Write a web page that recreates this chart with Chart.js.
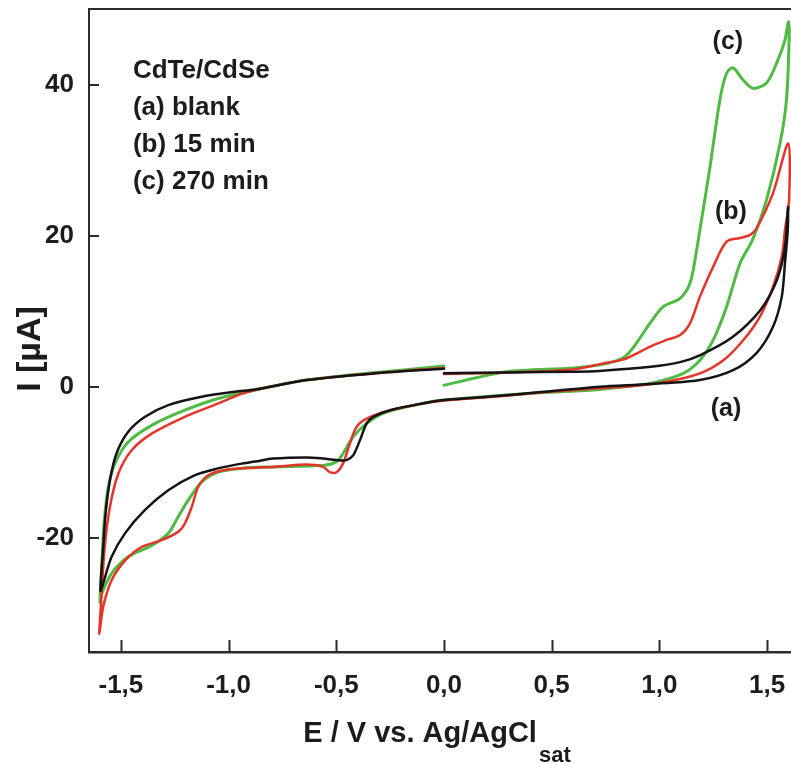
<!DOCTYPE html>
<html>
<head>
<meta charset="utf-8">
<script src="https://cdn.jsdelivr.net/npm/chart.js@4.4.0/dist/chart.umd.min.js"></script>
<style>
  html, body { margin: 0; padding: 0; background: #fff; }
  #wrap { width: 791px; height: 764px; }
</style>
</head>
<body>
<div id="wrap"><canvas id="cvChart"></canvas></div>
<script>
// axis ticks
const xTicks = [-1.5, -1.0, -0.5, 0.0, 0.5, 1.0, 1.5];
const yTicks = [-20, 0, 20, 40];

// legend text and curve tags
const legendLines = ['CdTe/CdSe', '(a) blank', '(b) 15 min', '(c) 270 min'];
const curveTags = ['(a)', '(b)', '(c)'];

// (a) blank  -  [E / V, I / µA], scan from 0 V -> +1.6 -> -1.6 -> 0 V
const curveA = [
    [0.00, 1.8], [0.30, 1.9], [0.60, 2.0], [0.72, 2.1], [0.96, 2.65], [1.10, 3.3],
    [1.19, 4.2], [1.34, 6.6], [1.47, 10.2], [1.545, 14.1], [1.583, 18.5], [1.597, 23.8],
    [1.596, 20.8], [1.583, 16.4], [1.568, 11.9], [1.527, 7.9], [1.452, 4.5], [1.342, 2.2],
    [1.188, 0.9], [0.956, 0.36], [0.724, 0.0], [0.45, -0.7], [0.26, -1.2], [0.0, -1.76],
    [-0.10, -2.2], [-0.25, -3.1], [-0.328, -3.97], [-0.359, -4.85], [-0.39, -7.06],
    [-0.421, -9.05], [-0.452, -9.7], [-0.50, -9.7], [-0.561, -9.5], [-0.638, -9.35],
    [-0.793, -9.5], [-0.877, -9.9], [-0.947, -10.2], [-1.048, -10.8], [-1.156, -11.7],
    [-1.28, -13.7], [-1.388, -16.3], [-1.481, -19.4], [-1.543, -22.5], [-1.582, -26.0],
    [-1.595, -27.0],
    [-1.582, -21.2], [-1.571, -16.8], [-1.551, -12.4], [-1.52, -8.8], [-1.466, -5.96],
    [-1.388, -3.97], [-1.28, -2.42], [-1.125, -1.32], [-0.97, -0.66], [-0.877, -0.35],
    [-0.638, 0.89], [-0.328, 1.77], [0.0, 2.4]
];

// (b) 15 min
const curveB = [
    [0.00, 1.7], [0.30, 1.9], [0.60, 2.3], [0.724, 3.0], [0.83, 3.6], [0.879, 4.2],
    [0.972, 5.5], [1.034, 6.2], [1.096, 6.85], [1.142, 8.4], [1.188, 11.9], [1.25, 15.9],
    [1.312, 19.2], [1.374, 19.7], [1.421, 20.1], [1.45, 20.9], [1.527, 25.6], [1.598, 32.2],
    [1.602, 24.7], [1.583, 20.75], [1.568, 17.2], [1.527, 13.2], [1.467, 9.3], [1.39, 6.2],
    [1.297, 3.5], [1.188, 1.77], [1.034, 0.66], [0.879, 0.09], [0.724, -0.2], [0.45, -0.75],
    [0.26, -1.25], [0.0, -1.8], [-0.10, -2.2], [-0.25, -3.1], [-0.359, -4.2], [-0.406, -5.3],
    [-0.437, -7.5], [-0.468, -10.1], [-0.499, -11.3], [-0.53, -11.3], [-0.561, -10.6],
    [-0.638, -10.3], [-0.793, -10.6], [-0.877, -10.7], [-1.016, -11.0], [-1.094, -11.7],
    [-1.14, -13.2], [-1.171, -15.9], [-1.203, -18.1], [-1.234, -19.2], [-1.311, -20.3],
    [-1.404, -21.2], [-1.481, -23.0], [-1.543, -25.6], [-1.582, -29.1], [-1.60, -32.7],
    [-1.593, -29.1], [-1.575, -21.2], [-1.551, -15.9], [-1.512, -11.5], [-1.45, -8.4],
    [-1.357, -6.2], [-1.203, -3.97], [-1.048, -2.2], [-0.947, -1.0], [-0.87, -0.4],
    [-0.638, 0.89], [-0.328, 1.77], [0.0, 2.5]
];

// (c) 270 min
const curveC = [
    [0.00, 0.2], [0.15, 1.2], [0.29, 2.0], [0.60, 2.5], [0.724, 2.9], [0.83, 3.8],
    [0.879, 5.2], [0.956, 8.4], [1.018, 10.6], [1.096, 11.7], [1.142, 13.7], [1.173, 18.1],
    [1.188, 20.75], [1.235, 29.1], [1.281, 38.0], [1.312, 41.5], [1.342, 42.2], [1.389, 40.6],
    [1.435, 39.5], [1.497, 40.2], [1.544, 42.8], [1.583, 45.9], [1.599, 48.3],
    [1.603, 46.8], [1.59, 38.0], [1.56, 32.2], [1.497, 24.7], [1.435, 19.6], [1.374, 16.3],
    [1.312, 10.6], [1.25, 6.2], [1.188, 3.5], [1.111, 1.77], [0.956, 0.45], [0.724, -0.35],
    [0.446, -0.8], [0.0, -1.76], [-0.10, -2.2], [-0.282, -3.5], [-0.359, -4.85],
    [-0.421, -6.6], [-0.468, -8.8], [-0.499, -9.9], [-0.561, -10.4], [-0.793, -10.6],
    [-0.947, -10.8], [-1.048, -11.3], [-1.125, -12.6], [-1.187, -15.0], [-1.234, -17.2],
    [-1.28, -19.4], [-1.357, -21.0], [-1.466, -22.5], [-1.543, -24.7], [-1.589, -27.4],
    [-1.597, -28.5],
    [-1.589, -23.8], [-1.577, -17.7], [-1.558, -13.2], [-1.527, -10.1], [-1.466, -7.3],
    [-1.357, -5.1], [-1.203, -3.1], [-1.048, -1.55], [-0.877, -0.44], [-0.638, 0.89],
    [-0.328, 1.85], [0.0, 2.74]
];

const FONT = "'Liberation Sans', Arial, sans-serif";
const INK = '#1c1c1c';

const toXY = arr => arr.map(([x, y]) => ({ x, y }));

// no extra room for half labels at the axis ends
const noPad = s => { s.paddingLeft = 0; s.paddingRight = 0; s.paddingTop = 0; s.paddingBottom = 0; };

// frame, inner ticks, titles and text labels
const decorPlugin = {
    id: 'decor',
    afterDraw(chart) {
        const { ctx, chartArea: a, scales: { x, y } } = chart;
        ctx.save();
        ctx.strokeStyle = '#2b2b2b';
        ctx.lineWidth = 2;
        ctx.beginPath();
        ctx.moveTo(a.left, a.top);
        ctx.lineTo(a.right, a.top);
        xTicks.forEach(v => {
            const px = Math.round(x.getPixelForValue(v)) + 0.5;
            ctx.moveTo(px, a.bottom);
            ctx.lineTo(px, a.bottom - 12);
        });
        yTicks.forEach(v => {
            const py = Math.round(y.getPixelForValue(v));
            ctx.moveTo(a.left, py);
            ctx.lineTo(a.left + 10, py);
        });
        ctx.stroke();

        ctx.fillStyle = INK;

        // legend block
        ctx.font = 'bold 26px ' + FONT;
        ctx.textAlign = 'left';
        ctx.textBaseline = 'alphabetic';
        const lx = x.getPixelForValue(-1.444);
        const ly = y.getPixelForValue(40.9);
        legendLines.forEach((t, i) => ctx.fillText(t, lx, ly + i * 37));

        // curve tags
        const tagPos = [[1.309, -2.95], [1.332, 23.1], [1.318, 45.6]];
        ctx.font = 'bold 25px ' + FONT;
        ctx.textAlign = 'center';
        ctx.textBaseline = 'middle';
        curveTags.forEach((t, i) => {
            ctx.fillText(t, x.getPixelForValue(tagPos[i][0]), y.getPixelForValue(tagPos[i][1]));
        });

        // x title with subscript
        ctx.textBaseline = 'alphabetic';
        ctx.textAlign = 'left';
        ctx.font = 'bold 29px ' + FONT;
        const main = 'E / V vs. Ag/AgCl';
        const wMain = ctx.measureText(main).width;
        ctx.font = 'bold 22px ' + FONT;
        const wSub = ctx.measureText('sat').width;
        const tx = (a.left + a.right) / 2 - 3 - (wMain + wSub + 2) / 2;
        ctx.font = 'bold 29px ' + FONT;
        ctx.fillText(main, tx, 742);
        ctx.font = 'bold 22px ' + FONT;
        ctx.fillText('sat', tx + wMain + 2, 762);

        // y title
        ctx.font = 'bold 34px ' + FONT;
        ctx.translate(31, 349);
        ctx.rotate(-Math.PI / 2);
        ctx.textAlign = 'center';
        ctx.textBaseline = 'middle';
        ctx.fillText('I [\u00b5A]', 0, 0);
        ctx.restore();
    }
};

document.addEventListener('DOMContentLoaded', () => {
    const ctx = document.getElementById('cvChart').getContext('2d');

    new Chart(ctx, {
        type: 'line',
        data: {
            datasets: [
                { data: toXY(curveA), borderColor: '#141414', borderWidth: 2.5 },
                { data: toXY(curveB), borderColor: '#e5352b', borderWidth: 2.5 },
                { data: toXY(curveC), borderColor: '#4fba44', borderWidth: 3 }
            ]
        },
        options: {
            responsive: true,
            maintainAspectRatio: false,
            devicePixelRatio: 1,
            animation: false,
            layout: { padding: { top: 9, left: 0, right: 0, bottom: 0 } },
            elements: {
                point: { radius: 0 },
                line: { tension: 0.3, borderJoinStyle: 'round', borderCapStyle: 'round' }
            },
            plugins: { legend: false, tooltip: { enabled: false } },
            scales: {
                x: {
                    type: 'linear',
                    min: -1.648,
                    max: 1.611,
                    afterBuildTicks: s => { s.ticks = xTicks.map(v => ({ value: v })); },
                    afterFit: s => { s.height = 112; noPad(s); },
                    grid: { display: false, drawTicks: false },
                    border: { display: true, color: '#2b2b2b', width: 2.5 },
                    ticks: {
                        autoSkip: false,
                        maxRotation: 0,
                        padding: 18,
                        color: INK,
                        font: { family: FONT, size: 26, weight: 'bold' },
                        callback: v => v.toFixed(1).replace('.', ',')
                    }
                },
                y: {
                    min: -35.1,
                    max: 50,
                    afterBuildTicks: s => { s.ticks = yTicks.map(v => ({ value: v })); },
                    afterFit: s => { s.width = 89; noPad(s); },
                    grid: { display: false, drawTicks: false },
                    border: { display: true, color: '#2b2b2b', width: 2 },
                    ticks: {
                        padding: 15,
                        color: INK,
                        font: { family: FONT, size: 26, weight: 'bold' },
                        callback: v => String(v)
                    }
                }
            }
        },
        plugins: [decorPlugin]
    });
});
</script>
</body>
</html>
